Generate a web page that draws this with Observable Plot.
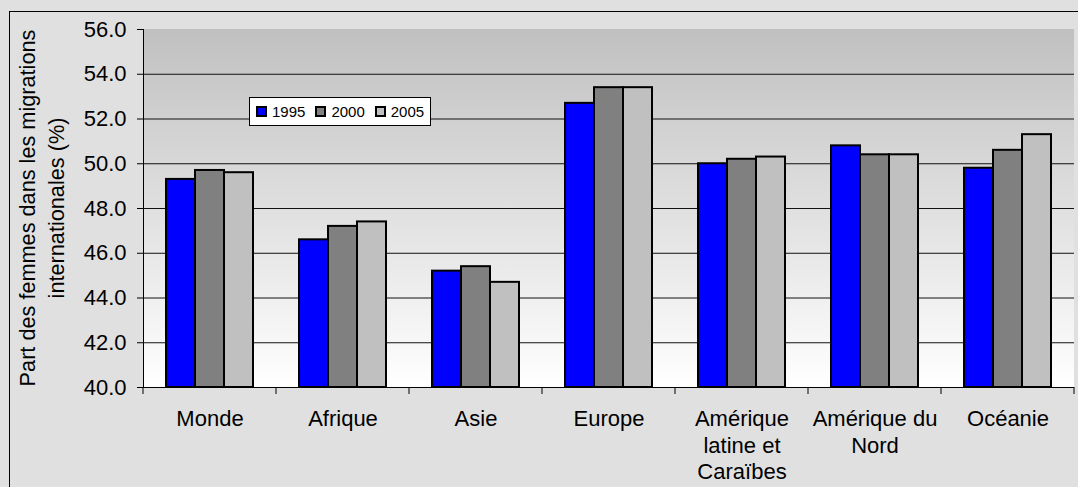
<!DOCTYPE html>
<html><head><meta charset="utf-8">
<script src="https://cdn.jsdelivr.net/npm/d3@7"></script>
<script src="https://cdn.jsdelivr.net/npm/@observablehq/plot@0.6"></script>
<style>
html,body{margin:0;padding:0;background:#e0e0e0;width:1078px;height:487px;overflow:hidden;font-family:"Liberation Sans",Arial,sans-serif}
#wrap{position:relative;width:1078px;height:487px;overflow:hidden}
#border{position:absolute;left:9px;top:11px;width:1100px;height:500px;border-left:1.5px solid #000;border-top:1.5px solid #000}
#chart{position:absolute;left:0;top:0}
#legend{position:absolute;left:249px;top:97px;width:182px;height:29px;background:#fff;border:1px solid #000;box-sizing:border-box;display:flex;align-items:center;font-size:15px;color:#000}
#legend .sw{width:11px;height:11px;border:2px solid #000;box-sizing:border-box;margin-right:5px}
#legend .it{display:flex;align-items:center;margin-left:10px}
#legend .it:first-child{margin-left:6px}
</style></head>
<body>
<svg width="0" height="0" style="position:absolute"><defs>
<linearGradient id="bg" x1="0" y1="0" x2="0" y2="1">
<stop offset="0" stop-color="#c0c0c0"/><stop offset="1" stop-color="#ffffff"/>
</linearGradient></defs></svg>
<div id="wrap"><div id="border"></div><div id="chart"></div><div id="legend"></div></div>
<script>
const regions = ["Monde","Afrique","Asie","Europe","Amérique latine et Caraïbes","Amérique du Nord","Océanie"];
const regionLabels = ["Monde","Afrique","Asie","Europe","Amérique\nlatine et\nCaraïbes","Amérique du\nNord","Océanie"];
const years = ["1995","2000","2005"];
const values1995 = [49.3,46.6,45.2,52.7,50.0,50.8,49.8];
const values2000 = [49.7,47.2,45.4,53.4,50.2,50.4,50.6];
const values2005 = [49.6,47.4,44.7,53.4,50.3,50.4,51.3];
const yTicks = [40,42,44,46,48,50,52,54,56];
const gridValues = [42,44,46,48,50,52,54];
const colors = ["#0000ff","#808080","#c0c0c0"];
const yTitle = ["Part des femmes dans les migrations","internationales (%)"];

const series = [values1995, values2000, values2005];
const rows = regions.flatMap((r,i) => years.map((y,j) => ({region:r, year:y, value:series[j][i]})));
const labelRows = regions.map((r,i) => ({region:r, label:regionLabels[i]}));

const chart = Plot.plot({
  width:1078, height:487,
  marginLeft:143, marginRight:4, marginTop:29, marginBottom:100,
  style:{background:"transparent", fontFamily:"'Liberation Sans', Arial, sans-serif", fontSize:"22px", color:"#000"},
  fx:{domain:regions, padding:0, axis:null},
  x:{domain:years, paddingInner:0, paddingOuter:0.75, axis:null},
  y:{domain:[40,56], ticks:yTicks, tickFormat:d=>d.toFixed(1), tickSize:6, tickPadding:11, label:null, line:true},
  color:{domain:years, range:colors},
  marks:[
    Plot.ruleY(gridValues, {stroke:"#111", strokeWidth:1}),
    Plot.barY(rows, {fx:"region", x:"year", y1:40, y2:"value", fill:"year", stroke:"#000", strokeWidth:2}),
    Plot.ruleY([40], {stroke:"#000", strokeWidth:1}),
    Plot.text(labelRows, {fx:"region", text:"label", frameAnchor:"bottom", lineAnchor:"top", dy:20, lineHeight:1.2, fontSize:22, fill:"#000"})
  ]
});
document.getElementById("chart").appendChild(chart);

const fx = chart.scale("fx"), ys = chart.scale("y");
const y0 = ys.apply(40), yTop = ys.apply(56);
const xLeft = fx.apply(regions[0]);
const xRight = fx.apply(regions[regions.length-1]) + fx.bandwidth;
const svg = d3.select(chart);

// plot-area gradient background, placed behind all marks
svg.insert("rect", ":first-child").attr("x", xLeft).attr("y", yTop)
  .attr("width", xRight - xLeft).attr("height", y0 - yTop).attr("fill", "url(#bg)");

// boundary ticks below x axis, from the library's fx scale
const edges = regions.map(r => fx.apply(r)).concat([xRight]);
svg.append("g").selectAll("line").data(edges).join("line")
  .attr("x1", d=>d).attr("x2", d=>d).attr("y1", y0).attr("y2", y0+7)
  .attr("stroke", "#000").attr("stroke-width", 1);

// y title
const yc = (yTop + y0) / 2;
svg.append("text").attr("transform", `translate(35,${yc}) rotate(-90)`).attr("text-anchor","middle")
  .attr("font-size", 21.7).attr("fill","#000").text(yTitle[0]);
svg.append("text").attr("transform", `translate(63.5,${yc}) rotate(-90)`).attr("text-anchor","middle")
  .attr("font-size", 21.7).attr("fill","#000").text(yTitle[1]);

// legend
const lg = document.getElementById("legend");
years.forEach((y,i) => {
  const it = document.createElement("div"); it.className = "it";
  const sw = document.createElement("div"); sw.className = "sw"; sw.style.background = colors[i];
  const t = document.createElement("span"); t.textContent = y;
  it.appendChild(sw); it.appendChild(t); lg.appendChild(it);
});
</script>
</body></html>
